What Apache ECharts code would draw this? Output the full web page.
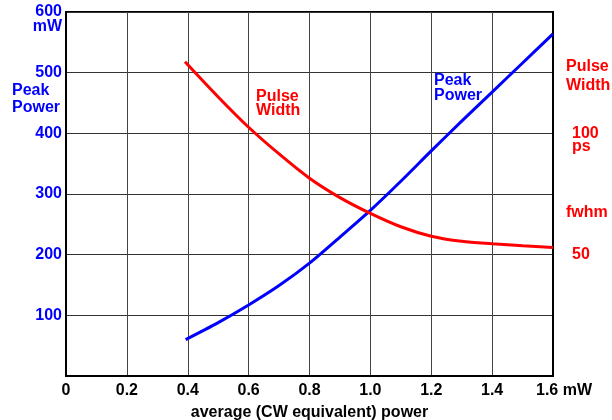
<!DOCTYPE html>
<html>
<head>
<meta charset="utf-8">
<script src="https://cdn.jsdelivr.net/npm/echarts@6/dist/echarts.min.js"></script>
<style>
  html, body { margin: 0; padding: 0; background: #fff; }
  #chart { width: 612px; height: 420px; }
</style>
</head>
<body>
<div id="chart"></div>
<script>
// peak power (mW) vs average power (mW)
const peakX = [0.393, 0.5, 0.6, 0.7, 0.8, 0.9, 1.0, 1.1, 1.2, 1.3, 1.4, 1.5, 1.6];
const peakPower = [60, 88, 117, 149, 186, 229, 273, 321, 371, 420, 468, 516, 564];

// pulse width (ps fwhm) vs average power (mW)
const pulseX = [0.391, 0.5, 0.6, 0.7, 0.8, 0.9, 1.0, 1.1, 1.2, 1.3, 1.4, 1.5, 1.6];
const pulseWidth = [129.5, 115, 102.5, 91.5, 81.5, 73.5, 67, 61.5, 57.6, 55.5, 54.5, 53.7, 53];

const xTicks = [0, 0.2, 0.4, 0.6, 0.8, 1.0, 1.2, 1.4, 1.6];
const rightTicks = [50, 100];

const FONT = '"Liberation Sans", Arial, sans-serif';
const FS = 16;
const BLUE = '#0000ff';
const RED = '#ff0000';

const chart = echarts.init(document.getElementById('chart'));

function txt(text, x, y, color, align) {
  return {
    type: 'text',
    x: x,
    y: y,
    style: {
      text: text,
      fill: color,
      font: 'bold ' + FS + 'px ' + FONT,
      textAlign: align || 'left',
      textVerticalAlign: 'middle'
    }
  };
}

const option = {
  animation: false,
  backgroundColor: '#fff',
  grid: {
    left: 66,
    right: 59,
    top: 12,
    bottom: 44,
    outerBoundsMode: 'none',
    containLabel: false,
    show: true,
    borderColor: '#000',
    borderWidth: 2
  },
  xAxis: {
    type: 'value',
    min: 0,
    max: 1.6,
    interval: 0.2,
    name: 'average (CW equivalent) power',
    nameLocation: 'middle',
    nameGap: 29,
    nameTextStyle: { color: '#000', fontWeight: 'bold', fontSize: FS, fontFamily: FONT },
    axisLine: { show: true, lineStyle: { color: '#000', width: 2 } },
    axisTick: { show: false },
    axisLabel: {
      color: '#000',
      fontWeight: 'bold',
      fontSize: FS,
      fontFamily: FONT,
      margin: 7,
      rich: {
        last: { fontWeight: 'bold', fontSize: FS, fontFamily: FONT, color: '#000', padding: [0, 0, 0, 22] }
      },
      formatter: function (v) {
        const t = xTicks.find(function (k) { return Math.abs(k - v) < 1e-6; });
        if (t === undefined) return '';
        if (t === 1.6) return '{last|1.6 mW}';
        return t === 0 ? '0' : t.toFixed(1);
      }
    },
    splitLine: { show: true, lineStyle: { color: '#444', width: 1 } }
  },
  yAxis: [
    {
      type: 'value',
      min: 0,
      max: 600,
      interval: 100,
      axisLine: { show: true, lineStyle: { color: '#000', width: 2 } },
      axisTick: { show: false },
      axisLabel: {
        color: BLUE,
        fontWeight: 'bold',
        fontSize: FS,
        fontFamily: FONT,
        margin: 4,
        formatter: function (v) { return v === 0 ? '' : String(v); }
      },
      splitLine: { show: true, lineStyle: { color: '#333', width: 1 } }
    },
    {
      type: 'value',
      min: 0,
      max: 150,
      interval: 50,
      position: 'right',
      axisLine: { show: true, lineStyle: { color: '#000', width: 2 } },
      axisTick: { show: false },
      axisLabel: {
        color: RED,
        fontWeight: 'bold',
        fontSize: FS,
        fontFamily: FONT,
        margin: 19,
        formatter: function (v) { return rightTicks.indexOf(v) >= 0 ? String(v) : ''; }
      },
      splitLine: { show: false }
    }
  ],
  series: [
    {
      name: 'Peak Power',
      type: 'line',
      yAxisIndex: 0,
      smooth: 0.3,
      showSymbol: false,
      lineStyle: { color: BLUE, width: 3 },
      data: peakX.map(function (x, i) { return [x, peakPower[i]]; })
    },
    {
      name: 'Pulse Width',
      type: 'line',
      yAxisIndex: 1,
      smooth: 0.3,
      showSymbol: false,
      lineStyle: { color: RED, width: 3 },
      data: pulseX.map(function (x, i) { return [x, pulseWidth[i]]; })
    }
  ],
  graphic: [
    txt('mW', 62, 27, BLUE, 'right'),
    txt('Peak', 12, 91, BLUE),
    txt('Power', 12, 108, BLUE),
    txt('Peak', 434, 81, BLUE),
    txt('Power', 434, 96, BLUE),
    txt('Pulse', 256, 97, RED),
    txt('Width', 256, 111, RED),
    txt('Pulse', 566, 67, RED),
    txt('Width', 566, 86, RED),
    txt('ps', 572, 147, RED),
    txt('fwhm', 566, 213, RED)
  ]
};

chart.setOption(option);
</script>
</body>
</html>
